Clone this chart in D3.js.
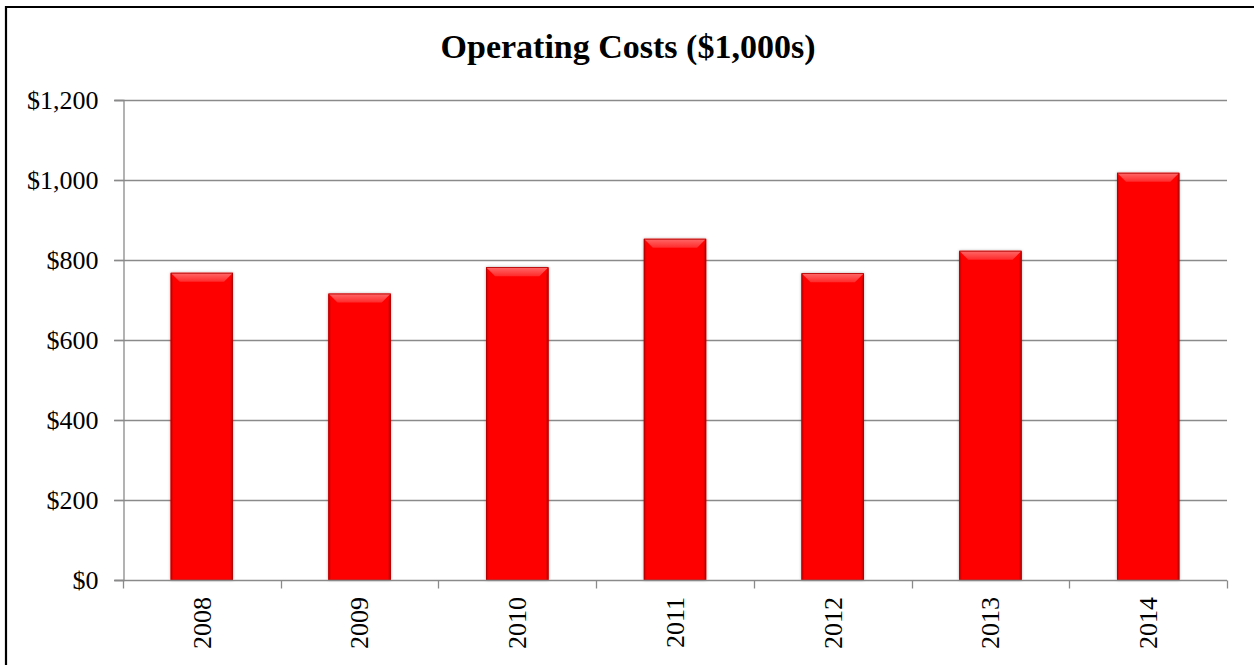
<!DOCTYPE html>
<html>
<head>
<meta charset="utf-8">
<script src="https://cdn.jsdelivr.net/npm/d3@7"></script>
<style>
  html, body { margin: 0; padding: 0; background: #ffffff; }
  svg { display: block; }
</style>
</head>
<body>
<svg id="chart" width="1254" height="665"></svg>
<script>
// Operating costs per year, in thousands of dollars
const years = ["2008", "2009", "2010", "2011", "2012", "2013", "2014"];
const costs = [768, 716, 782, 853, 767, 823, 1018];
const yTicks = [0, 200, 400, 600, 800, 1000, 1200];
const title = "Operating Costs ($1,000s)";

const svg = d3.select("#chart");
const W = 1254, H = 665;
const margin = { left: 123, right: 1254 - 1227, top: 100, bottom: 665 - 580 };
const serif = "'Liberation Serif', 'DejaVu Serif', serif";

const x = d3.scaleBand()
  .domain(years)
  .range([margin.left, W - margin.right])
  .paddingInner(0.605)
  .paddingOuter(0.3025);

const y = d3.scaleLinear()
  .domain([0, 1200])
  .range([H - margin.bottom, margin.top]);

const fmt = v => "$" + d3.format(",")(v);

// defs: bevel gradients and soft shadow
const defs = svg.append("defs");
const topGrad = defs.append("linearGradient")
  .attr("id", "bevelTop").attr("x1", 0).attr("y1", 0).attr("x2", 0).attr("y2", 1);
topGrad.append("stop").attr("offset", "0%").attr("stop-color", "#ff6a6a");
topGrad.append("stop").attr("offset", "100%").attr("stop-color", "#ff2a2a");

const leftGrad = defs.append("linearGradient")
  .attr("id", "bevelLeft").attr("x1", 0).attr("y1", 0).attr("x2", 1).attr("y2", 0);
leftGrad.append("stop").attr("offset", "0%").attr("stop-color", "#c80000");
leftGrad.append("stop").attr("offset", "100%").attr("stop-color", "#ff0000");

const rightGrad = defs.append("linearGradient")
  .attr("id", "bevelRight").attr("x1", 0).attr("y1", 0).attr("x2", 1).attr("y2", 0);
rightGrad.append("stop").attr("offset", "0%").attr("stop-color", "#ff0000");
rightGrad.append("stop").attr("offset", "100%").attr("stop-color", "#b00000");

const shadow = defs.append("filter").attr("id", "barShadow")
  .attr("x", "-20%").attr("y", "-10%").attr("width", "140%").attr("height", "120%");
shadow.append("feDropShadow")
  .attr("dx", 0).attr("dy", 0).attr("stdDeviation", 1.6)
  .attr("flood-color", "#000").attr("flood-opacity", 0.35);

// frame (top and left edges of the chart area)
svg.append("line").attr("x1", 6).attr("x2", W).attr("y1", 7).attr("y2", 7)
  .attr("stroke", "#000").attr("stroke-width", 2.2);
svg.append("line").attr("x1", 6).attr("x2", 6).attr("y1", 6).attr("y2", H)
  .attr("stroke", "#000").attr("stroke-width", 2.2);

// title
svg.append("text")
  .attr("x", 628).attr("y", 58)
  .attr("text-anchor", "middle")
  .attr("font-family", serif)
  .attr("font-weight", "bold")
  .attr("font-size", 34)
  .attr("fill", "#000")
  .text(title);

// horizontal gridlines
svg.append("g")
  .selectAll("line")
  .data(yTicks.filter(d => d > 0))
  .join("line")
  .attr("x1", margin.left - 9).attr("x2", W - margin.right)
  .attr("y1", d => Math.round(y(d)) + 0.5).attr("y2", d => Math.round(y(d)) + 0.5)
  .attr("stroke", "#8a8a8a").attr("stroke-width", 1.3);

// y axis
const yAxis = svg.append("g")
  .attr("transform", `translate(${margin.left + 0.5},0)`)
  .attr("font-family", serif)
  .call(d3.axisLeft(y).tickValues(yTicks).tickFormat(fmt).tickSize(9).tickPadding(16));
yAxis.attr("font-family", serif).attr("font-size", 26);
yAxis.select(".domain").attr("stroke", "#8a8a8a").attr("stroke-width", 1.3);
yAxis.selectAll(".tick line").attr("stroke", "#8a8a8a").attr("stroke-width", 1.3);
yAxis.selectAll(".tick text")
  .attr("font-family", serif)
  .attr("font-size", 26)
  .attr("fill", "#000")
  .attr("dy", "0.34em");

// bars with a bevelled look
const bars = svg.append("g").selectAll("g.bar")
  .data(years.map((yr, i) => ({ yr, v: costs[i] })))
  .join("g").attr("class", "bar");

bars.each(function (d) {
  const g = d3.select(this);
  const x0 = x(d.yr), x1 = x(d.yr) + x.bandwidth();
  const y0 = y(d.v), y1 = y(0);
  const b = 9, s = 3;
  g.append("rect")
    .attr("x", x0).attr("y", y0)
    .attr("width", x1 - x0).attr("height", y1 - y0)
    .attr("fill", "#ff0000")
    .attr("filter", "url(#barShadow)");
  g.append("polygon")
    .attr("points", [[x0, y0], [x0 + s, y0 + b], [x0 + s, y1], [x0, y1]].join(" "))
    .attr("fill", "url(#bevelLeft)");
  g.append("polygon")
    .attr("points", [[x1, y0], [x1 - s, y0 + b], [x1 - s, y1], [x1, y1]].join(" "))
    .attr("fill", "url(#bevelRight)");
  g.append("polygon")
    .attr("points", [[x0, y0], [x1, y0], [x1 - b, y0 + b], [x0 + b, y0 + b]].join(" "))
    .attr("fill", "url(#bevelTop)");
  g.append("rect")
    .attr("x", x0 + 0.4).attr("y", y0 + 0.4)
    .attr("width", x1 - x0 - 0.8).attr("height", y1 - y0 - 0.4)
    .attr("fill", "none").attr("stroke", "#b00000").attr("stroke-width", 0.8);
});

// x axis baseline with ticks at category boundaries
const xBase = Math.round(y(0)) + 0.5;
svg.append("line")
  .attr("x1", margin.left - 9).attr("x2", W - margin.right)
  .attr("y1", xBase).attr("y2", xBase)
  .attr("stroke", "#8a8a8a").attr("stroke-width", 1.3);

const step = x.step();
const boundaries = d3.range(years.length + 1).map(i => margin.left + i * step);
svg.append("g").selectAll("line")
  .data(boundaries)
  .join("line")
  .attr("x1", d => Math.round(d) + 0.5).attr("x2", d => Math.round(d) + 0.5)
  .attr("y1", xBase).attr("y2", xBase + 8)
  .attr("stroke", "#8a8a8a").attr("stroke-width", 1.3);

// rotated year labels
svg.append("g").selectAll("text")
  .data(years)
  .join("text")
  .attr("transform", d => `translate(${x(d) + x.bandwidth() / 2},597) rotate(-90)`)
  .attr("text-anchor", "end")
  .attr("dy", "0.34em")
  .attr("font-family", serif)
  .attr("font-size", 26)
  .attr("fill", "#000")
  .text(d => d);
</script>
</body>
</html>
